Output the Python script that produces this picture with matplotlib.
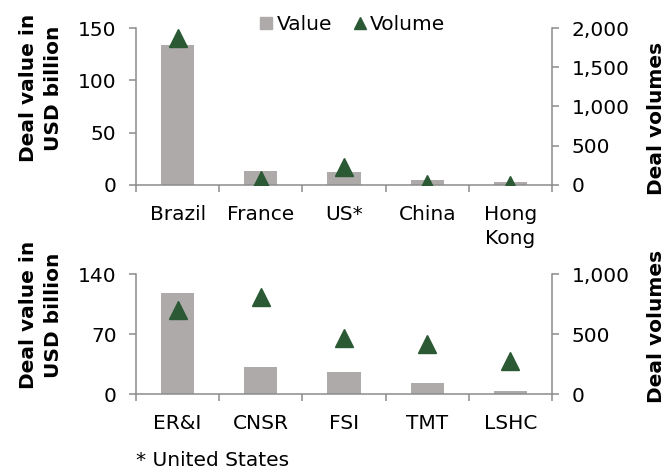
import matplotlib
matplotlib.use("Agg")
import matplotlib.pyplot as plt
from matplotlib.lines import Line2D
from matplotlib.ticker import StrMethodFormatter

# ---------------- data ----------------
countries = ["Brazil", "France", "US*", "China", "Hong\nKong"]
country_value = [134, 13.5, 12.8, 4.8, 3.3]        # USD billion
country_volume = [1875, 65, 232, 10, 5]             # deal count

sectors = ["ER&I", "CNSR", "FSI", "TMT", "LSHC"]
sector_value = [118, 32, 25.3, 13.4, 4]
sector_volume = [697, 805, 463, 416, 275]

top_yticks = [0, 50, 100, 150]
top_y2ticks = [0, 500, 1000, 1500, 2000]
bot_yticks = [0, 70, 140]
bot_y2ticks = [0, 500, 1000]

# ---------------- style ----------------
BAR = "#aeaaa9"
TRI = "#2a5934"
AXC = "#8c8c8c"
FS = 14.5

plt.rcParams["font.family"] = "DejaVu Sans"

fig = plt.figure(figsize=(6.67, 4.73), dpi=100)
W, H = 667.0, 473.0


def axes_px(left, right, top, bottom):
    return fig.add_axes([left / W, 1 - bottom / H, (right - left) / W, (bottom - top) / H])


def draw_panel(ax, cats, vals, vols, yt, y2t):
    n = len(cats)
    xs = list(range(n))
    ax.bar(xs, vals, width=0.4, color=BAR, zorder=2)
    ax.set_xlim(-0.5, n - 0.5)
    ax.set_ylim(yt[0], yt[-1])
    ax.set_yticks(yt)

    ax2 = ax.twinx()
    ax2.plot(xs, vols, linestyle="none", marker="^", ms=13.5,
             color=TRI, mec=TRI, zorder=3)
    ax2.set_ylim(y2t[0], y2t[-1])
    ax2.set_yticks(y2t)
    ax2.yaxis.set_major_formatter(StrMethodFormatter("{x:,.0f}"))

    # category boundaries as ticks, labels centred
    ax.set_xticks([i - 0.5 for i in range(n + 1)])
    ax.set_xticklabels([])
    ax.set_xticks(xs, minor=True)
    ax.set_xticklabels(cats, minor=True, fontsize=FS, linespacing=1.3)
    ax.tick_params(axis="x", which="minor", length=0, pad=14.5)
    ax.tick_params(axis="x", which="major", length=5, width=1.1, color=AXC)

    for a in (ax, ax2):
        a.spines["top"].set_visible(False)
        for s in ("left", "right", "bottom"):
            a.spines[s].set_color(AXC)
            a.spines[s].set_linewidth(1.1)
        a.tick_params(axis="y", length=5, width=1.1, color=AXC,
                      labelsize=FS, pad=9)
    ax.spines["right"].set_visible(False)
    ax2.spines["left"].set_visible(False)
    ax2.spines["bottom"].set_visible(False)
    return ax2


ax_top = axes_px(136, 552, 28, 185)
draw_panel(ax_top, countries, country_value, country_volume, top_yticks, top_y2ticks)

ax_bot = axes_px(136, 552, 274, 394)
draw_panel(ax_bot, sectors, sector_value, sector_volume, bot_yticks, bot_y2ticks)

# axis titles
lab = dict(rotation=90, ha="center", va="center", fontsize=14.5,
           fontweight="bold", multialignment="center")
fig.text(41 / W, 1 - 88 / H, "Deal value in\nUSD billion", linespacing=1.4, **lab)
fig.text(41 / W, 1 - 315 / H, "Deal value in\nUSD billion", linespacing=1.4, **lab)
fig.text(657 / W, 1 - 118 / H, "Deal volumes", **lab)
fig.text(657 / W, 1 - 326 / H, "Deal volumes", **lab)

# legend
handles = [
    Line2D([], [], linestyle="none", marker="s", ms=9, color=BAR),
    Line2D([], [], linestyle="none", marker="^", ms=8, color=TRI),
]
fig.legend(handles, ["Value", "Volume"], loc="center",
           bbox_to_anchor=(352 / W, 1 - 25 / H), ncol=2, frameon=False,
           fontsize=FS, handletextpad=0.1, columnspacing=1.0,
           handlelength=0.8, borderpad=0)

fig.text(136 / W, 1 - 460 / H, "* United States", fontsize=FS,
         ha="left", va="center")

fig.savefig("out.png", dpi=100)
